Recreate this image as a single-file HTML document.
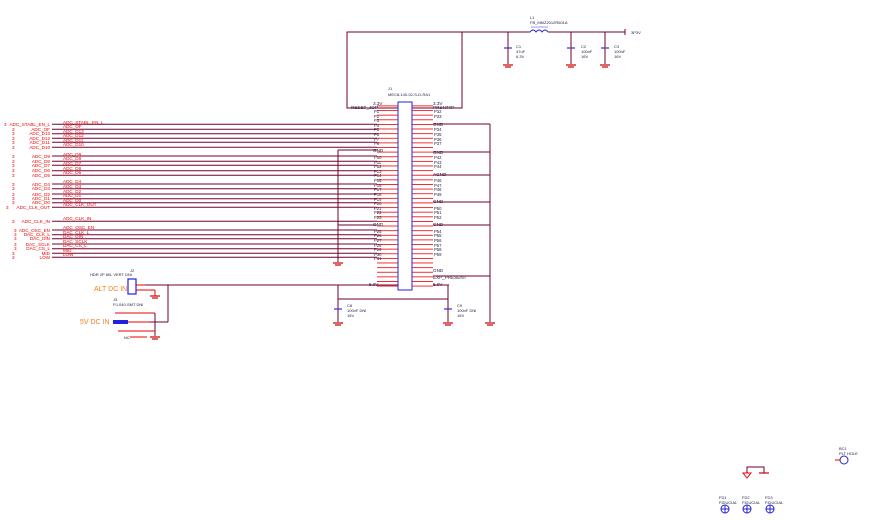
<!DOCTYPE html>
<html><head><meta charset="utf-8"><style>
html,body{margin:0;padding:0;background:#fff;width:869px;height:520px;overflow:hidden}
svg{display:block;font-family:"Liberation Sans",sans-serif}
.r{fill:#e00;font-size:4.6px}
.b{fill:#224;font-size:4.6px}
.o{fill:#f08020;font-size:7px}
</style></head><body>
<svg width="869" height="520" viewBox="0 0 869 520" xmlns="http://www.w3.org/2000/svg">
<defs>
<pattern id="pl" x="0" y="105.5" width="40" height="4.62" patternUnits="userSpaceOnUse"><rect x="0" y="0" width="40" height="0.8" fill="#e00"/></pattern>
</defs>
<rect x="347" y="32" width="115" height="76" fill="none" stroke="#700030" stroke-width="1"/>
<line x1="462" y1="32" x2="530" y2="32" stroke="#700030"/>
<line x1="548" y1="32" x2="625" y2="32" stroke="#700030"/>
<line x1="625" y1="29" x2="625" y2="35" stroke="#700030"/>
<text x="631" y="34" class="b" style="font-size:4px">3P3V</text>
<path d="M530 32 q3 -4 6 0 q3 -4 6 0 q3 -4 6 0" fill="none" stroke="#33c" stroke-width="1"/>
<line x1="531" y1="27" x2="548" y2="27" stroke="#33c" stroke-width=".6"/>
<text x="530" y="19" class="b" style="font-size:4px">L1</text>
<text x="530" y="24" class="b" style="font-size:4px">FB_MMZ2012R601A</text>
<g stroke="#700030"><line x1="508" y1="32" x2="508" y2="64"/><line x1="571" y1="32" x2="571" y2="64"/><line x1="605" y1="32" x2="605" y2="64"/></g>
<g stroke="#33c" stroke-width="1.2"><line x1="504" y1="48" x2="512" y2="48"/><line x1="567" y1="48" x2="575" y2="48"/><line x1="601" y1="48" x2="609" y2="48"/></g>
<g stroke="#c00" stroke-width="1.2"><line x1="503" y1="65" x2="513" y2="65"/><line x1="566" y1="65" x2="576" y2="65"/><line x1="600" y1="65" x2="610" y2="65"/><line x1="505" y1="67" x2="511" y2="67"/><line x1="568" y1="67" x2="574" y2="67"/><line x1="602" y1="67" x2="608" y2="67"/></g>
<text x="516" y="48" class="b" style="font-size:4px">C1</text><text x="516" y="53" class="b" style="font-size:4px">47uF</text><text x="516" y="58" class="b" style="font-size:4px">6.3V</text>
<text x="581" y="48" class="b" style="font-size:4px">C2</text><text x="581" y="53" class="b" style="font-size:4px">100nF</text><text x="581" y="58" class="b" style="font-size:4px">16V</text>
<text x="614" y="48" class="b" style="font-size:4px">C3</text><text x="614" y="53" class="b" style="font-size:4px">100nF</text><text x="614" y="58" class="b" style="font-size:4px">16V</text>
<text x="388" y="90" class="b" style="font-size:4px">J1</text>
<text x="388" y="96" class="b" style="font-size:4px">MEC8-140-02-S-D-RA1</text>
<rect x="377" y="102" width="21" height="186" fill="url(#pl)"/>
<rect x="412" y="102" width="21" height="186" fill="url(#pl)"/>
<rect x="398" y="102" width="14" height="188" fill="#fff" stroke="#22d" stroke-width="1"/>
<text x="373" y="105" class="b">3.3V</text><text x="351" y="109" class="b">RESET_JOP</text>
<text x="433" y="105" class="b">3.3V</text><text x="433" y="109" class="b">PRSNT#P</text>
<text x="433" y="126" class="b">GND</text><text x="433" y="154" class="b">GND</text><text x="433" y="176" class="b">AGND</text>
<text x="433" y="203" class="b">GND</text><text x="433" y="226" class="b">GND</text>
<text x="433" y="272" class="b">GND</text><text x="433" y="279" class="b">EXP_PRESENT</text><text x="433" y="286" class="b">5.0V</text>
<text x="373" y="152" class="b">GND</text><text x="373" y="226" class="b">GND</text><text x="369" y="286" class="b">5.0V</text>
<g class="b" style="font-size:4.2px">
<text x="374" y="113">P1</text><text x="374" y="118">P2</text><text x="374" y="122">P3</text><text x="374" y="127">P4</text><text x="374" y="131">P5</text><text x="374" y="136">P6</text><text x="374" y="141">P7</text><text x="374" y="145">P8</text>
<text x="374" y="159">P10</text><text x="374" y="164">P11</text><text x="374" y="168">P12</text><text x="374" y="173">P13</text><text x="374" y="177">P14</text><text x="374" y="182">P15</text><text x="374" y="187">P16</text><text x="374" y="191">P17</text><text x="374" y="196">P18</text><text x="374" y="201">P19</text><text x="374" y="205">P20</text><text x="374" y="210">P21</text><text x="374" y="214">P22</text><text x="374" y="219">P23</text>
<text x="374" y="233">P25</text><text x="374" y="237">P26</text><text x="374" y="242">P27</text><text x="374" y="247">P28</text><text x="374" y="251">P29</text><text x="374" y="256">P30</text><text x="374" y="260">P31</text>
<text x="434" y="113">P32</text><text x="434" y="118">P33</text><text x="434" y="131">P34</text><text x="434" y="136">P35</text><text x="434" y="141">P36</text><text x="434" y="145">P37</text>
<text x="434" y="159">P42</text><text x="434" y="164">P43</text><text x="434" y="168">P44</text><text x="434" y="182">P46</text><text x="434" y="187">P47</text><text x="434" y="191">P48</text><text x="434" y="196">P49</text>
<text x="434" y="210">P50</text><text x="434" y="214">P51</text><text x="434" y="219">P52</text><text x="434" y="233">P54</text><text x="434" y="237">P55</text><text x="434" y="242">P56</text><text x="434" y="247">P57</text><text x="434" y="251">P58</text><text x="434" y="256">P59</text>
</g>
<g stroke="#700030" fill="none">
<line x1="433" y1="124" x2="490" y2="124"/><line x1="433" y1="152" x2="490" y2="152"/><line x1="433" y1="175" x2="490" y2="175"/>
<line x1="433" y1="202" x2="490" y2="202"/><line x1="433" y1="225" x2="490" y2="225"/><line x1="433" y1="276" x2="490" y2="276"/>
<line x1="490" y1="124" x2="490" y2="322"/>
<line x1="338" y1="150" x2="377" y2="150"/><line x1="338" y1="225" x2="377" y2="225"/><line x1="338" y1="150" x2="338" y2="262"/>
<line x1="52" y1="124.3" x2="377" y2="124.3"/><line x1="52" y1="129.3" x2="377" y2="129.3"/><line x1="52" y1="133.7" x2="377" y2="133.7"/>
<line x1="52" y1="138.3" x2="377" y2="138.3"/><line x1="52" y1="142.3" x2="377" y2="142.3"/><line x1="52" y1="147.3" x2="377" y2="147.3"/>
<line x1="52" y1="156" x2="377" y2="156"/><line x1="52" y1="161.3" x2="377" y2="161.3"/><line x1="52" y1="165.3" x2="377" y2="165.3"/>
<line x1="52" y1="170.7" x2="377" y2="170.7"/><line x1="52" y1="175.3" x2="377" y2="175.3"/>
<line x1="52" y1="184" x2="377" y2="184"/><line x1="52" y1="188.7" x2="377" y2="188.7"/><line x1="52" y1="194" x2="377" y2="194"/>
<line x1="52" y1="198.7" x2="377" y2="198.7"/><line x1="52" y1="202.7" x2="377" y2="202.7"/><line x1="52" y1="207.3" x2="377" y2="207.3"/>
<line x1="52" y1="221.3" x2="377" y2="221.3"/>
<line x1="52" y1="230" x2="377" y2="230"/><line x1="52" y1="234.7" x2="377" y2="234.7"/><line x1="52" y1="238.7" x2="377" y2="238.7"/>
<line x1="52" y1="244" x2="377" y2="244"/><line x1="52" y1="248.7" x2="377" y2="248.7"/><line x1="52" y1="253.3" x2="377" y2="253.3"/><line x1="52" y1="257.3" x2="377" y2="257.3"/>
<line x1="145" y1="285" x2="398" y2="285"/><line x1="168" y1="285" x2="168" y2="322"/><line x1="150" y1="322" x2="168" y2="322"/>
<line x1="433" y1="285" x2="449" y2="285"/>
<line x1="338" y1="285" x2="338" y2="322"/><line x1="338" y1="299" x2="448" y2="299"/><line x1="448" y1="285" x2="448" y2="322"/>
<line x1="155" y1="313" x2="155" y2="336"/>
</g>
<g stroke="#c00" stroke-width="1.2">
<line x1="333" y1="263" x2="343" y2="263"/><line x1="335" y1="265" x2="341" y2="265"/>
<line x1="485" y1="323" x2="495" y2="323"/><line x1="487" y1="325" x2="493" y2="325"/>
<line x1="333" y1="323" x2="343" y2="323"/><line x1="335" y1="325" x2="341" y2="325"/>
<line x1="443" y1="323" x2="453" y2="323"/><line x1="445" y1="325" x2="451" y2="325"/>
<line x1="150" y1="296" x2="160" y2="296"/><line x1="152" y1="298" x2="158" y2="298"/>
<line x1="150" y1="337" x2="160" y2="337"/><line x1="152" y1="339" x2="158" y2="339"/>
</g>
<g stroke="#33c" stroke-width="1.2"><line x1="334" y1="309" x2="342" y2="309"/><line x1="444" y1="309" x2="452" y2="309"/></g>
<text x="347" y="307" class="b" style="font-size:4px">C8</text><text x="347" y="312" class="b" style="font-size:4px">100nF DNI</text><text x="347" y="317" class="b" style="font-size:4px">16V</text>
<text x="457" y="307" class="b" style="font-size:4px">C9</text><text x="457" y="312" class="b" style="font-size:4px">100nF DNI</text><text x="457" y="317" class="b" style="font-size:4px">16V</text>
<g stroke="#e00" stroke-width="1"><line x1="136" y1="285" x2="145" y2="285"/><line x1="136" y1="290" x2="155" y2="290"/><line x1="155" y1="290" x2="155" y2="296"/>
<line x1="115" y1="313" x2="155" y2="313"/><line x1="128" y1="322" x2="150" y2="322"/><line x1="118" y1="331" x2="155" y2="331"/><line x1="130" y1="337" x2="147" y2="337"/></g>
<rect x="128" y="279" width="8" height="15" fill="none" stroke="#22d" stroke-width="1.2"/>
<rect x="113" y="320" width="15" height="4" fill="#22d"/>
<text x="90" y="276" class="b" style="font-size:4px">HDR 2P 80L VERT DNI</text><text x="130" y="272" class="b" style="font-size:4px">J2</text>
<text x="113" y="301" class="b" style="font-size:4px">J3</text><text x="113" y="306" class="b" style="font-size:4px">PJ-040-SMT DNI</text>
<text x="124" y="339" class="b" style="font-size:4px">NC</text>
<text x="94" y="291" class="o">ALT DC IN</text>
<text x="80" y="324" class="o">5V DC IN</text>
<g class="r" text-anchor="end">
<text x="50" y="126">ADC_STABL_EN_L</text><text x="50" y="131">ADC_OF</text><text x="50" y="135">ADC_D13</text><text x="50" y="140">ADC_D12</text><text x="50" y="144">ADC_D11</text><text x="50" y="149">ADC_D10</text>
<text x="50" y="158">ADC_D9</text><text x="50" y="163">ADC_D8</text><text x="50" y="167">ADC_D7</text><text x="50" y="172">ADC_D6</text><text x="50" y="177">ADC_D5</text>
<text x="50" y="186">ADC_D4</text><text x="50" y="190">ADC_D3</text><text x="50" y="196">ADC_D2</text><text x="50" y="200">ADC_D1</text><text x="50" y="204">ADC_D0</text><text x="50" y="209">ADC_CLK_OUT</text>
<text x="50" y="223">ADC_CLK_IN</text>
<text x="50" y="232">ADC_OSC_EN</text><text x="50" y="236">DAC_CLK_L</text><text x="50" y="240">DAC_DIN</text><text x="50" y="246">DAC_SCLK</text><text x="50" y="250">DAC_CS_L</text><text x="50" y="255">MID</text><text x="50" y="259">LOW</text>
</g>
<g class="r">
<text x="4" y="126">3</text><text x="12" y="131">3</text><text x="12" y="135">3</text><text x="12" y="140">3</text><text x="12" y="144">3</text><text x="12" y="149">3</text>
<text x="12" y="158">3</text><text x="12" y="163">3</text><text x="12" y="167">3</text><text x="12" y="172">3</text><text x="12" y="177">3</text>
<text x="12" y="186">3</text><text x="12" y="190">3</text><text x="12" y="196">3</text><text x="12" y="200">3</text><text x="12" y="204">3</text><text x="6" y="209">3</text>
<text x="12" y="223">3</text><text x="14" y="232">3</text><text x="14" y="236">3</text><text x="14" y="240">3</text><text x="14" y="246">3</text><text x="14" y="250">3</text><text x="12" y="255">3</text><text x="12" y="259">3</text>
<text x="63" y="124">ADC_STABL_EN_L</text><text x="63" y="128">ADC_OF</text><text x="63" y="133">ADC_D13</text><text x="63" y="137">ADC_D12</text><text x="63" y="142">ADC_D11</text><text x="63" y="146">ADC_D10</text>
<text x="63" y="156">ADC_D9</text><text x="63" y="160">ADC_D8</text><text x="63" y="165">ADC_D7</text><text x="63" y="170">ADC_D6</text><text x="63" y="174">ADC_D5</text>
<text x="63" y="183">ADC_D4</text><text x="63" y="188">ADC_D3</text><text x="63" y="193">ADC_D2</text><text x="63" y="197">ADC_D1</text><text x="63" y="202">ADC_D0</text><text x="63" y="206">ADC_CLK_OUT</text>
<text x="63" y="220">ADC_CLK_IN</text>
<text x="63" y="229">ADC_OSC_EN</text><text x="63" y="234">DAC_CLK_L</text><text x="63" y="238">DAC_DIN</text><text x="63" y="243">DAC_SCLK</text><text x="63" y="247">DAC_CS_L</text><text x="63" y="252">MID</text><text x="63" y="256">LOW</text>
</g>
<path d="M743 473 h8 l-4 5 z" fill="none" stroke="#e00"/>
<polyline points="747,473 747,467 764,467 764,473" fill="none" stroke="#700030"/>
<line x1="759" y1="473" x2="769" y2="473" stroke="#c00" stroke-width="1.2"/>
<circle cx="844" cy="460" r="4" fill="none" stroke="#22d" stroke-width="1"/>
<line x1="835" y1="460" x2="840" y2="460" stroke="#e00"/>
<text x="839" y="450" class="b" style="font-size:4px">BC1</text><text x="839" y="455" class="b" style="font-size:4px">PLT HOLE</text>
<g fill="none" stroke="#22d" stroke-width="1">
<circle cx="725" cy="509" r="4"/><line x1="721" y1="509" x2="729" y2="509"/><line x1="725" y1="505" x2="725" y2="513"/>
<circle cx="747" cy="509" r="4"/><line x1="743" y1="509" x2="751" y2="509"/><line x1="747" y1="505" x2="747" y2="513"/>
<circle cx="770" cy="509" r="4"/><line x1="766" y1="509" x2="774" y2="509"/><line x1="770" y1="505" x2="770" y2="513"/>
</g>
<g class="b" style="font-size:4px"><text x="719" y="499">FD1</text><text x="719" y="504">FIDUCIAL</text><text x="742" y="499">FD2</text><text x="742" y="504">FIDUCIAL</text><text x="765" y="499">FD3</text><text x="765" y="504">FIDUCIAL</text></g>
</svg>
</body></html>
